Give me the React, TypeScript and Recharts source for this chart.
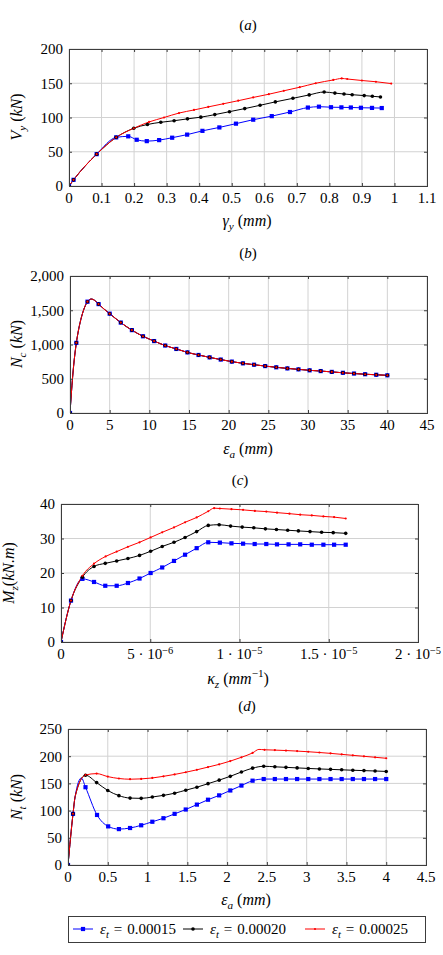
import React from 'react';
import { LineChart, Line, XAxis, YAxis, CartesianGrid } from 'recharts';

type Pt = [number, number];

// (a) shear force V_y (kN) against shear deformation gamma_y (mm)
const vyE15: Pt[] = [
  [0, 0], [0.014, 9], [0.085, 46.5], [0.145, 71], [0.182, 72.5], [0.208, 67.5], [0.239, 65.5],
  [0.277, 67], [0.317, 70.5], [0.363, 75], [0.41, 80.5], [0.462, 85.5], [0.513, 91], [0.566, 96.8],
  [0.623, 102], [0.679, 108], [0.734, 114.5], [0.768, 115.8], [0.805, 115], [0.837, 114.8],
  [0.866, 114.6], [0.897, 114.2], [0.931, 114], [0.961, 113.8],
];
const vyE20: Pt[] = [
  [0, 0], [0.014, 9], [0.085, 46.5], [0.145, 71], [0.199, 84.3], [0.241, 89.8], [0.282, 93],
  [0.323, 95.3], [0.364, 98], [0.405, 100.5], [0.448, 104.2], [0.493, 108.5], [0.54, 113],
  [0.587, 117.8], [0.634, 122.8], [0.688, 128], [0.738, 133], [0.784, 137.2], [0.817, 135.6],
  [0.845, 134.3], [0.87, 133.3], [0.907, 132], [0.932, 131], [0.957, 130],
];
const vyE25: Pt[] = [
  [0, 0], [0.014, 9], [0.085, 46.5], [0.145, 71], [0.199, 84.3], [0.246, 93.5], [0.292, 100],
  [0.338, 106.5], [0.384, 111], [0.428, 115.5], [0.474, 120], [0.52, 124.5], [0.566, 129.3],
  [0.614, 134], [0.66, 139], [0.709, 144.2], [0.758, 150], [0.812, 154.8], [0.838, 157],
  [0.855, 156.2], [0.9, 154], [0.943, 152.2], [0.99, 149.5],
];
const vyXTicks = [0, 0.1, 0.2, 0.3, 0.4, 0.5, 0.6, 0.7, 0.8, 0.9, 1, 1.1];
const vyYTicks = [0, 50, 100, 150, 200];

// (b) compressive force N_c (kN) against axial deformation (mm); all three runs coincide
const ncCurve: Pt[] = [
  [0, 0], [0.8, 1024], [2.2, 1625], [3.6, 1590], [5.0, 1450], [6.4, 1320], [7.8, 1210],
  [9.2, 1120], [10.6, 1050], [12.0, 985], [13.4, 935], [14.8, 885], [16.2, 847], [17.6, 812],
  [19.0, 780], [20.4, 750], [21.8, 725], [23.2, 705], [24.6, 685], [26.0, 667], [27.4, 651],
  [28.8, 637], [30.2, 623], [31.6, 612], [33.0, 600], [34.4, 587], [35.8, 576], [37.2, 566],
  [38.6, 558], [40, 550],
];
const ncXTicks = [0, 5, 10, 15, 20, 25, 30, 35, 40, 45];
const ncYTicks = [0, 500, 1000, 1500, 2000];

// (c) bending moment M_z (kN.m) against curvature, curvature in 1e-6 mm^-1
const mzE15: Pt[] = [
  [0, 0], [0.56, 12], [1.2, 18.3], [1.85, 17.4], [2.48, 16.3], [3.12, 16.3], [3.75, 17.1],
  [4.4, 18.4], [5.02, 20], [5.67, 21.6], [6.33, 23.5], [6.95, 25.3], [7.6, 27.2], [8.25, 28.9],
  [8.9, 28.8], [9.55, 28.6], [10.2, 28.5], [10.85, 28.4], [11.5, 28.4], [12.1, 28.3],
  [12.75, 28.3], [13.4, 28.3], [14.05, 28.2], [14.7, 28.2], [15.3, 28.2], [15.95, 28.2],
];
const mzE20: Pt[] = [
  [0, 0], [0.56, 12], [1.2, 18.8], [1.85, 21.9], [2.48, 22.8], [3.12, 23.5], [3.75, 24.2],
  [4.4, 25.1], [5.02, 26.3], [5.67, 27.7], [6.33, 28.9], [6.95, 30.3], [7.6, 32], [8.25, 33.8],
  [8.86, 34], [9.5, 33.6], [10.15, 33.3], [10.8, 33.1], [11.45, 32.8], [12.07, 32.6],
  [12.7, 32.4], [13.3, 32.2], [13.95, 32], [14.6, 31.8], [15.25, 31.7], [15.95, 31.5],
];
const mzE25: Pt[] = [
  [0, 0], [0.56, 12], [1.2, 19.2], [1.85, 22.7], [2.5, 24.8], [3.12, 26.2], [3.75, 27.6],
  [4.4, 28.9], [5.02, 30.3], [5.67, 31.8], [6.33, 33.2], [6.95, 34.7], [7.6, 36.1], [8.25, 37.9],
  [8.58, 38.8], [8.9, 38.7], [9.55, 38.5], [10.2, 38.3], [10.86, 38], [11.5, 37.8], [12.1, 37.5],
  [12.8, 37.2], [13.4, 36.9], [14.05, 36.7], [14.7, 36.4], [15.3, 36.2], [15.95, 35.8],
];
const kappaTicks = [0, 5, 10, 15, 20];
const kappaMantissa = ['0', '5', '1', '1.5', '2'];
const kappaExp = ['', '−6', '−5', '−5', '−5'];
const mzYTicks = [0, 10, 20, 30, 40];

// (d) tensile force N_t (kN) against axial deformation (mm)
const ntE15: Pt[] = [
  [0, 0], [0.063, 94], [0.09, 126], [0.168, 160], [0.22, 143], [0.365, 92], [0.505, 71],
  [0.64, 66], [0.78, 68], [0.92, 73], [1.06, 79.5], [1.2, 86], [1.34, 94], [1.48, 102],
  [1.62, 111], [1.76, 120], [1.9, 128], [2.04, 137], [2.18, 146], [2.32, 155], [2.46, 158],
  [2.6, 158], [2.74, 158], [2.88, 158], [3.02, 158], [3.16, 158], [3.3, 158], [3.44, 158],
  [3.58, 158], [3.72, 158], [3.86, 158], [4.0, 158],
];
const ntE20: Pt[] = [
  [0, 0], [0.063, 94], [0.09, 126], [0.22, 165], [0.36, 151.5], [0.5, 137], [0.64, 127.5],
  [0.78, 123], [0.92, 122.5], [1.06, 125], [1.2, 128], [1.34, 132], [1.48, 137.5], [1.62, 143],
  [1.76, 149.5], [1.9, 156], [2.04, 163], [2.18, 171], [2.32, 178], [2.46, 181.5], [2.6, 180.5],
  [2.74, 179.5], [2.88, 178.5], [3.02, 177.5], [3.16, 176.6], [3.3, 175.8], [3.44, 175],
  [3.58, 174.2], [3.72, 173.5], [3.86, 172.8], [4.0, 172],
];
const ntE25: Pt[] = [
  [0, 0], [0.063, 94], [0.09, 126], [0.22, 165.5], [0.36, 168], [0.5, 162.5], [0.64, 159],
  [0.78, 157.7], [0.92, 158.3], [1.06, 160], [1.2, 163], [1.34, 166.5], [1.48, 170.5],
  [1.62, 175], [1.76, 180], [1.9, 185], [2.04, 191], [2.18, 198], [2.32, 206], [2.4, 212.5],
  [2.47, 211.8], [2.6, 211.2], [2.74, 210.4], [2.88, 209.4], [3.02, 208.2], [3.16, 206.8],
  [3.3, 205.2], [3.44, 203.4], [3.58, 201.6], [3.72, 199.8], [3.86, 198], [4.0, 196.2],
];
// vertices of the N_t curves that carry no marker
const ntUnmarked = [0.09, 0.168, 2.4];
const ntXTicks = [0, 0.5, 1, 1.5, 2, 2.5, 3, 3.5, 4, 4.5];
const ntYTicks = [0, 50, 100, 150, 200, 250];

const legendLabels = ['0.00015', '0.00020', '0.00025'];

const FONT = 'Liberation Serif';
const BLUE = '#0000ff';
const BLACK = '#000000';
const RED = '#ff0000';
const GRID = '#d2d2d2';
const FRAME = '#3c3c3c';

type Marker = 'square' | 'dot' | 'tiny';

const markerShape = (kind: Marker, color: string, cx: number, cy: number, key: string) => {
  if (kind === 'square') return <rect key={key} x={cx - 2.1} y={cy - 2.1} width={4.2} height={4.2} fill={color} />;
  if (kind === 'dot') return <circle key={key} cx={cx} cy={cy} r={1.8} fill={color} />;
  return <circle key={key} cx={cx} cy={cy} r={1.1} fill={color} />;
};

const makeDot = (kind: Marker, color: string, skip: number[]) => (props: any) => {
  const { cx, cy, payload, index } = props;
  const key = `m-${color}-${index}`;
  if (cx == null || cy == null || skip.includes(payload.x)) return <g key={key} />;
  return markerShape(kind, color, cx, cy, key);
};

const toRows = (pts: Pt[]) => pts.map(([x, y]) => ({ x, y }));

interface SeriesDef {
  pts: Pt[];
  color: string;
  marker: Marker;
}

interface Box {
  left: number;
  right: number;
  top: number;
  bottom: number;
  xDomain: [number, number];
  xTicks: number[];
  yDomain: [number, number];
  yTicks: number[];
}

interface PanelProps extends Box {
  series: SeriesDef[];
  curve: 'monotone' | 'natural' | 'linear';
  skip?: number[];
  xTick?: any;
  yFmt?: (v: number) => string;
}

const tickStyle = { fill: '#000', fontSize: 15, fontFamily: FONT };

const Panel = (p: PanelProps) => {
  const h = p.bottom - p.top + 10 + 30;
  return (
    <div style={{ position: 'absolute', left: 0, top: p.top - 10 }}>
      <LineChart width={443} height={h} margin={{ top: 10, right: 443 - p.right, bottom: 0, left: p.left - 60 }}>
        <CartesianGrid stroke={GRID} strokeWidth={1} />
        <XAxis
          type="number"
          dataKey="x"
          domain={p.xDomain}
          ticks={p.xTicks}
          interval={0}
          allowDataOverflow
          tickLine={false}
          axisLine={false}
          tickSize={6}
          tickMargin={0}
          height={30}
          tick={p.xTick || tickStyle}
        />
        <YAxis
          type="number"
          domain={p.yDomain}
          ticks={p.yTicks}
          interval={0}
          allowDataOverflow
          tickLine={false}
          axisLine={false}
          tickSize={6}
          tickMargin={0}
          width={60}
          tick={tickStyle}
          tickFormatter={p.yFmt}
        />
        {p.series.map((s, k) => (
          <Line
            key={k}
            data={toRows(s.pts)}
            dataKey="y"
            type={p.curve}
            stroke={s.color}
            strokeWidth={1}
            dot={makeDot(s.marker, s.color, p.skip || [])}
            activeDot={false}
            isAnimationActive={false}
          />
        ))}
      </LineChart>
    </div>
  );
};

// curvature ticks written as mantissa · 10^exp
const KappaTick = (props: any) => {
  const { x, y, payload, index } = props;
  const i = kappaTicks.indexOf(payload.value);
  const k = i < 0 ? index : i;
  return (
    <text x={x} y={y} dy="0.71em" textAnchor="middle" fill="#000" fontSize={15} fontFamily={FONT}>
      {kappaMantissa[k]}
      {kappaExp[k] && <tspan> · 10</tspan>}
      {kappaExp[k] && (
        <tspan dy="-0.45em" fontSize={10.5}>
          {kappaExp[k]}
        </tspan>
      )}
    </text>
  );
};

type Seg = { t: string; i?: boolean; sub?: boolean; sup?: boolean };

const segs = (list: Seg[], size: number) => {
  let shift = 0;
  return list.map((s, k) => {
    const target = s.sub ? size * 0.28 : s.sup ? -size * 0.42 : 0;
    const dy = target - shift;
    shift = target;
    return (
      <tspan key={k} dy={dy} fontStyle={s.i ? 'italic' : 'normal'} fontSize={s.sub || s.sup ? size * 0.7 : size}>
        {s.t}
      </tspan>
    );
  });
};

const Label = ({ x, y, list, size = 16, rotate = false }: { x: number; y: number; list: Seg[]; size?: number; rotate?: boolean }) => (
  <text
    x={x}
    y={y}
    textAnchor="middle"
    fill="#000"
    fontSize={size}
    fontFamily={FONT}
    transform={rotate ? `rotate(-90 ${x} ${y})` : undefined}
  >
    {segs(list, size)}
  </text>
);

// axis box with short inward tick marks on all four sides
const Frame = ({ b }: { b: Box }) => {
  const sx = (v: number) => b.left + ((v - b.xDomain[0]) / (b.xDomain[1] - b.xDomain[0])) * (b.right - b.left) + 0.5;
  const sy = (v: number) => b.bottom - ((v - b.yDomain[0]) / (b.yDomain[1] - b.yDomain[0])) * (b.bottom - b.top) + 0.5;
  const len = 3;
  return (
    <g stroke={FRAME} strokeWidth={1}>
      {b.xTicks.map((v) => (
        <g key={`x${v}`}>
          <line x1={sx(v)} x2={sx(v)} y1={b.bottom} y2={b.bottom - len} />
          <line x1={sx(v)} x2={sx(v)} y1={b.top} y2={b.top + len} />
        </g>
      ))}
      {b.yTicks.map((v) => (
        <g key={`y${v}`}>
          <line x1={b.left} x2={b.left + len} y1={sy(v)} y2={sy(v)} />
          <line x1={b.right} x2={b.right - len} y1={sy(v)} y2={sy(v)} />
        </g>
      ))}
      <rect x={b.left + 0.5} y={b.top + 0.5} width={b.right - b.left} height={b.bottom - b.top} fill="none" />
    </g>
  );
};

const LegendEntry = ({ x, color, marker, label }: { x: number; color: string; marker: Marker; label: string }) => (
  <g>
    <line x1={x} x2={x + 20} y1={929} y2={929} stroke={color} strokeWidth={1} />
    {markerShape(marker, color, x + 10, 929, 'lm')}
    <text x={x + 27} y={934} fill="#000" fontSize={15} fontFamily={FONT}>
      {segs([{ t: 'ε', i: true }, { t: 't', i: true, sub: true }, { t: '\u2004=\u2004' + label }], 15)}
    </text>
  </g>
);

const seriesOf = (a: Pt[], b: Pt[], c: Pt[]): SeriesDef[] => [
  { pts: a, color: BLUE, marker: 'square' },
  { pts: b, color: BLACK, marker: 'dot' },
  { pts: c, color: RED, marker: 'tiny' },
];

const boxA: Box = { left: 69, right: 427, top: 49, bottom: 186, xDomain: [0, 1.1], xTicks: vyXTicks, yDomain: [0, 200], yTicks: vyYTicks };
const boxB: Box = { left: 70, right: 427, top: 276, bottom: 413, xDomain: [0, 45], xTicks: ncXTicks, yDomain: [0, 2000], yTicks: ncYTicks };
const boxC: Box = { left: 61, right: 418, top: 504, bottom: 642, xDomain: [0, 20], xTicks: kappaTicks, yDomain: [0, 40], yTicks: mzYTicks };
const boxD: Box = { left: 68, right: 426, top: 729, bottom: 865, xDomain: [0, 4.5], xTicks: ntXTicks, yDomain: [0, 250], yTicks: ntYTicks };

export default function App() {
  return (
    <div style={{ position: 'absolute', left: 0, top: 0, width: 443, height: 955, background: '#fff' }}>
      <Panel {...boxA} series={seriesOf(vyE15, vyE20, vyE25)} curve="monotone" />
      <Panel
        {...boxB}
        series={seriesOf(ncCurve, ncCurve, ncCurve)}
        curve="natural"
        yFmt={(v) => v.toLocaleString('en-US')}
      />
      <Panel {...boxC} series={seriesOf(mzE15, mzE20, mzE25)} curve="monotone" xTick={<KappaTick />} />
      <Panel {...boxD} series={seriesOf(ntE15, ntE20, ntE25)} curve="monotone" skip={ntUnmarked} />
      <svg width={443} height={955} style={{ position: 'absolute', left: 0, top: 0, pointerEvents: 'none' }}>
        <Frame b={boxA} />
        <Frame b={boxB} />
        <Frame b={boxC} />
        <Frame b={boxD} />

        <Label x={248} y={30} size={15} list={[{ t: '(' }, { t: 'a', i: true }, { t: ')' }]} />
        <Label x={248} y={258} size={15} list={[{ t: '(' }, { t: 'b', i: true }, { t: ')' }]} />
        <Label x={240} y={485} size={15} list={[{ t: '(' }, { t: 'c', i: true }, { t: ')' }]} />
        <Label x={247} y={711} size={15} list={[{ t: '(' }, { t: 'd', i: true }, { t: ')' }]} />

        <Label x={22} y={117} rotate list={[{ t: 'V', i: true }, { t: 'y', i: true, sub: true }, { t: ' (' }, { t: 'kN', i: true }, { t: ')' }]} />
        <Label x={22} y={344} rotate list={[{ t: 'N', i: true }, { t: 'c', i: true, sub: true }, { t: ' (' }, { t: 'kN', i: true }, { t: ')' }]} />
        <Label x={14} y={573} rotate list={[{ t: 'M', i: true }, { t: 'z', i: true, sub: true }, { t: '(' }, { t: 'kN.m', i: true }, { t: ')' }]} />
        <Label x={22} y={797} rotate list={[{ t: 'N', i: true }, { t: 't', i: true, sub: true }, { t: ' (' }, { t: 'kN', i: true }, { t: ')' }]} />

        <Label x={247} y={226} list={[{ t: 'γ', i: true }, { t: 'y', i: true, sub: true }, { t: ' (' }, { t: 'mm', i: true }, { t: ')' }]} />
        <Label x={248} y={454} list={[{ t: 'ε', i: true }, { t: 'a', i: true, sub: true }, { t: ' (' }, { t: 'mm', i: true }, { t: ')' }]} />
        <Label x={238} y={684} list={[{ t: 'κ', i: true }, { t: 'z', i: true, sub: true }, { t: ' (' }, { t: 'mm', i: true }, { t: '−1', sup: true }, { t: ')' }]} />
        <Label x={246} y={905} list={[{ t: 'ε', i: true }, { t: 'a', i: true, sub: true }, { t: ' (' }, { t: 'mm', i: true }, { t: ')' }]} />

        <rect x={68.5} y={916.5} width={357} height={26} fill="#fff" stroke={FRAME} strokeWidth={1} />
        <LegendEntry x={73} color={BLUE} marker="square" label={legendLabels[0]} />
        <LegendEntry x={183} color={BLACK} marker="dot" label={legendLabels[1]} />
        <LegendEntry x={305} color={RED} marker="tiny" label={legendLabels[2]} />
      </svg>
    </div>
  );
}
